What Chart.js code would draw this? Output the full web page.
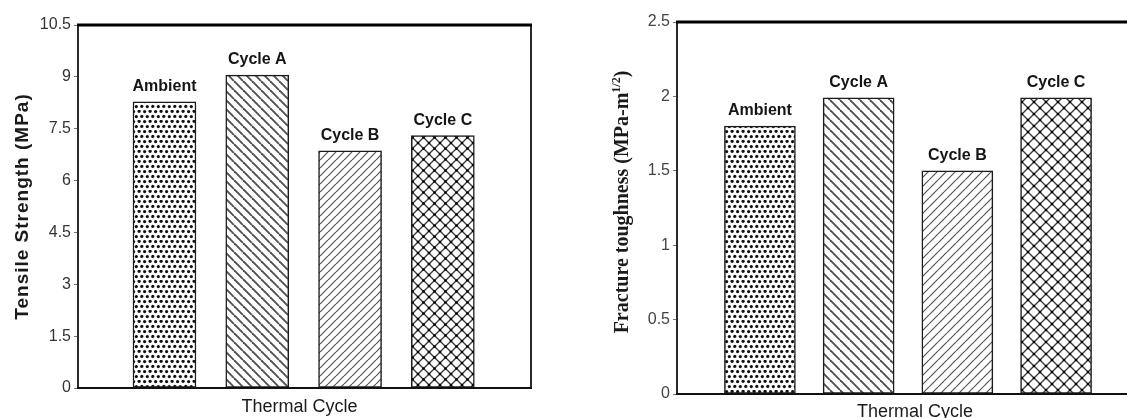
<!DOCTYPE html>
<html><head><meta charset="utf-8">
<script src="https://cdn.jsdelivr.net/npm/chart.js@4.4.0/dist/chart.umd.min.js"></script>
<style>
html,body{margin:0;padding:0;background:#fff;width:1127px;height:418px;overflow:hidden;position:relative}
#c1{position:absolute;left:0;top:0}
#c2{position:absolute;left:560px;top:0}
</style></head><body>
<canvas id="c1" width="560" height="418"></canvas>
<canvas id="c2" width="600" height="418"></canvas>
<script>
const categories = ['Ambient', 'Cycle A', 'Cycle B', 'Cycle C'];
const tensileStrength = [8.28, 9.05, 6.86, 7.30];
const fractureToughness = [1.80, 1.99, 1.50, 1.99];
const tensileTicks = ['0', '1.5', '3', '4.5', '6', '7.5', '9', '10.5'];
const toughnessTicks = ['0', '0.5', '1', '1.5', '2', '2.5'];
const xTitle = 'Thermal Cycle';
const leftYTitle = 'Tensile Strength (MPa)';
const rightYTitleParts = ['Fracture toughness (MPa-m', '1/2', ')'];

function tile(w, h) { const c = document.createElement('canvas'); c.width = w; c.height = h; const g = c.getContext('2d'); g.fillStyle = '#fff'; g.fillRect(0, 0, w, h); return [c, g]; }
function dotsPattern(ctx) {
  const [c, g] = tile(11, 10);
  g.fillStyle = '#111';
  [[1.6, 1.6], [7.1, 1.3], [4.3, 6.6], [9.8, 6.4], [-1.2, 6.4]].forEach(([x, y]) => { g.beginPath(); g.arc(x, y, 1.6, 0, Math.PI * 2); g.fill(); });
  return ctx.createPattern(c, 'repeat');
}
function backPattern(ctx, s, lw, col) {
  const [c, g] = tile(s, s);
  g.strokeStyle = col; g.lineWidth = lw;
  for (let k = -1; k <= 1; k++) { g.beginPath(); g.moveTo(k * s, 0); g.lineTo(k * s + s, s); g.stroke(); }
  return ctx.createPattern(c, 'repeat');
}
function fwdPattern(ctx, s, lw, col) {
  const [c, g] = tile(s, s);
  g.strokeStyle = col; g.lineWidth = lw;
  for (let k = -1; k <= 1; k++) { g.beginPath(); g.moveTo(k * s, s); g.lineTo(k * s + s, 0); g.stroke(); }
  return ctx.createPattern(c, 'repeat');
}
function crossPattern(ctx, s, lw, col) {
  const [c, g] = tile(s, s);
  g.strokeStyle = col; g.lineWidth = lw;
  for (let k = -1; k <= 1; k++) {
    g.beginPath(); g.moveTo(k * s, 0); g.lineTo(k * s + s, s); g.stroke();
    g.beginPath(); g.moveTo(k * s, s); g.lineTo(k * s + s, 0); g.stroke();
  }
  g.fillStyle = '#000';
  [[s / 2, s / 2], [0, 0], [s, 0], [0, s], [s, s]].forEach(([x, y]) => { g.beginPath(); g.arc(x, y, 1.3, 0, Math.PI * 2); g.fill(); });
  return ctx.createPattern(c, 'repeat');
}
function patterns(ctx, s) {
  return [dotsPattern(ctx), backPattern(ctx, s, 1.9, '#505050'), fwdPattern(ctx, s - 1, 1.2, '#555'), crossPattern(ctx, s + 2, 1.3, '#383838')];
}

const framePlugin = {
  id: 'frame',
  afterDatasetsDraw(chart) {
    const { ctx, chartArea: a } = chart;
    ctx.save();
    ctx.strokeStyle = '#2a2a2a'; ctx.lineWidth = 2;
    ctx.beginPath(); ctx.moveTo(a.left, a.top); ctx.lineTo(a.left, a.bottom); ctx.stroke();
    ctx.beginPath(); ctx.moveTo(a.right, a.top); ctx.lineTo(a.right, a.bottom); ctx.stroke();
    ctx.strokeStyle = '#111'; ctx.lineWidth = 2.2;
    ctx.beginPath(); ctx.moveTo(a.left - 1, a.bottom); ctx.lineTo(a.right + 1, a.bottom); ctx.stroke();
    ctx.strokeStyle = '#000'; ctx.lineWidth = 3;
    ctx.beginPath(); ctx.moveTo(a.left - 1, a.top); ctx.lineTo(a.right + 1, a.top); ctx.stroke();
    ctx.restore();
  }
};
const barLabelPlugin = {
  id: 'barLabels',
  afterDatasetsDraw(chart) {
    const { ctx } = chart;
    ctx.save();
    ctx.font = 'bold 16px "Liberation Sans", Arial, sans-serif';
    ctx.fillStyle = '#151515'; ctx.textAlign = 'center'; ctx.textBaseline = 'alphabetic';
    chart.getDatasetMeta(0).data.forEach((el, i) => { ctx.fillText(categories[i], el.x, el.y - 11); });
    ctx.restore();
  }
};
const titlesPlugin = {
  id: 'axisTitles',
  afterDraw(chart, args, o) {
    const { ctx, chartArea: a } = chart;
    ctx.save();
    ctx.fillStyle = '#1a1a1a';
    ctx.font = o.xFont; ctx.textAlign = 'center'; ctx.textBaseline = 'alphabetic';
    ctx.fillText(xTitle, (a.left + a.right) / 2 + o.xShift, o.xBaseline);
    ctx.translate(o.yX, (a.top + a.bottom) / 2 + o.yShift);
    ctx.rotate(-Math.PI / 2);
    ctx.textBaseline = 'middle'; ctx.textAlign = 'left';
    if ('letterSpacing' in ctx) ctx.letterSpacing = o.spacing + 'px';
    const parts = o.parts;
    let total = 0;
    const widths = parts.map(p => { ctx.font = p.font; const w = ctx.measureText(p.text).width; total += w; return w; });
    let x = -total / 2;
    parts.forEach((p, i) => { ctx.font = p.font; ctx.fillText(p.text, x, p.dy || 0); x += widths[i]; });
    ctx.restore();
  }
};

function makeChart(id, values, tickLabels, opts) {
  const canvas = document.getElementById(id);
  const ctx = canvas.getContext('2d');
  const pats = patterns(ctx, opts.hatch);
  return new Chart(ctx, {
    type: 'bar',
    data: {
      datasets: [{
        data: categories.map((c, i) => ({ x: i + 1, y: values[i] })),
        backgroundColor: pats,
        borderColor: '#1a1a1a',
        borderWidth: 1.5,
        borderSkipped: false,
        barThickness: opts.barThickness
      }]
    },
    options: {
      responsive: false,
      animation: false,
      events: [],
      layout: { padding: { top: opts.top, left: 0, right: opts.right, bottom: 0 } },
      plugins: {
        legend: { display: false },
        tooltip: { enabled: false },
        axisTitles: opts.titles
      },
      scales: {
        x: {
          type: 'linear', min: opts.xmin, max: opts.xmax, offset: false,
          ticks: { display: false }, grid: { display: false }, border: { display: false },
          afterFit(s) { s.height = opts.bottomH; }
        },
        y: {
          min: 0, max: opts.ymax,
          ticks: {
            stepSize: opts.step,
            callback: (v, i) => tickLabels[i],
            font: { size: 16, family: '"Liberation Sans", Arial, sans-serif' },
            color: opts.tickColor, padding: 3
          },
          grid: { drawOnChartArea: false, drawTicks: true, tickLength: 4, color: '#777', tickWidth: 1 },
          border: { display: false },
          afterFit(s) { s.width = opts.yWidth; }
        }
      }
    },
    plugins: [framePlugin, barLabelPlugin, titlesPlugin]
  });
}

makeChart('c1', tensileStrength, tensileTicks, {
  hatch: 9, barThickness: 63, top: 25, right: 29, bottomH: 30, yWidth: 78,
  xmin: 0.068, xmax: 4.95, ymax: 10.5, step: 1.5, tickColor: '#333',
  titles: {
    xFont: '18px "Liberation Sans", Arial, sans-serif', xShift: -5, xBaseline: 412,
    yX: 23, yShift: 0, spacing: 1,
    parts: [{ text: leftYTitle, font: 'bold 19px "Liberation Sans", Arial, sans-serif' }]
  }
});
makeChart('c2', fractureToughness, toughnessTicks, {
  hatch: 10, barThickness: 71, top: 22, right: 21, bottomH: 24, yWidth: 117,
  xmin: 0.16, xmax: 4.84, ymax: 2.5, step: 0.5, tickColor: '#444',
  titles: {
    xFont: '18px "Liberation Sans", Arial, sans-serif', xShift: 7, xBaseline: 417,
    yX: 63, yShift: -6, spacing: 0,
    parts: [
      { text: rightYTitleParts[0], font: 'bold 20px "Liberation Serif", "Times New Roman", serif' },
      { text: rightYTitleParts[1], font: 'bold 12px "Liberation Serif", "Times New Roman", serif', dy: -6 },
      { text: rightYTitleParts[2], font: 'bold 20px "Liberation Serif", "Times New Roman", serif' }
    ]
  }
});
</script>
</body></html>
